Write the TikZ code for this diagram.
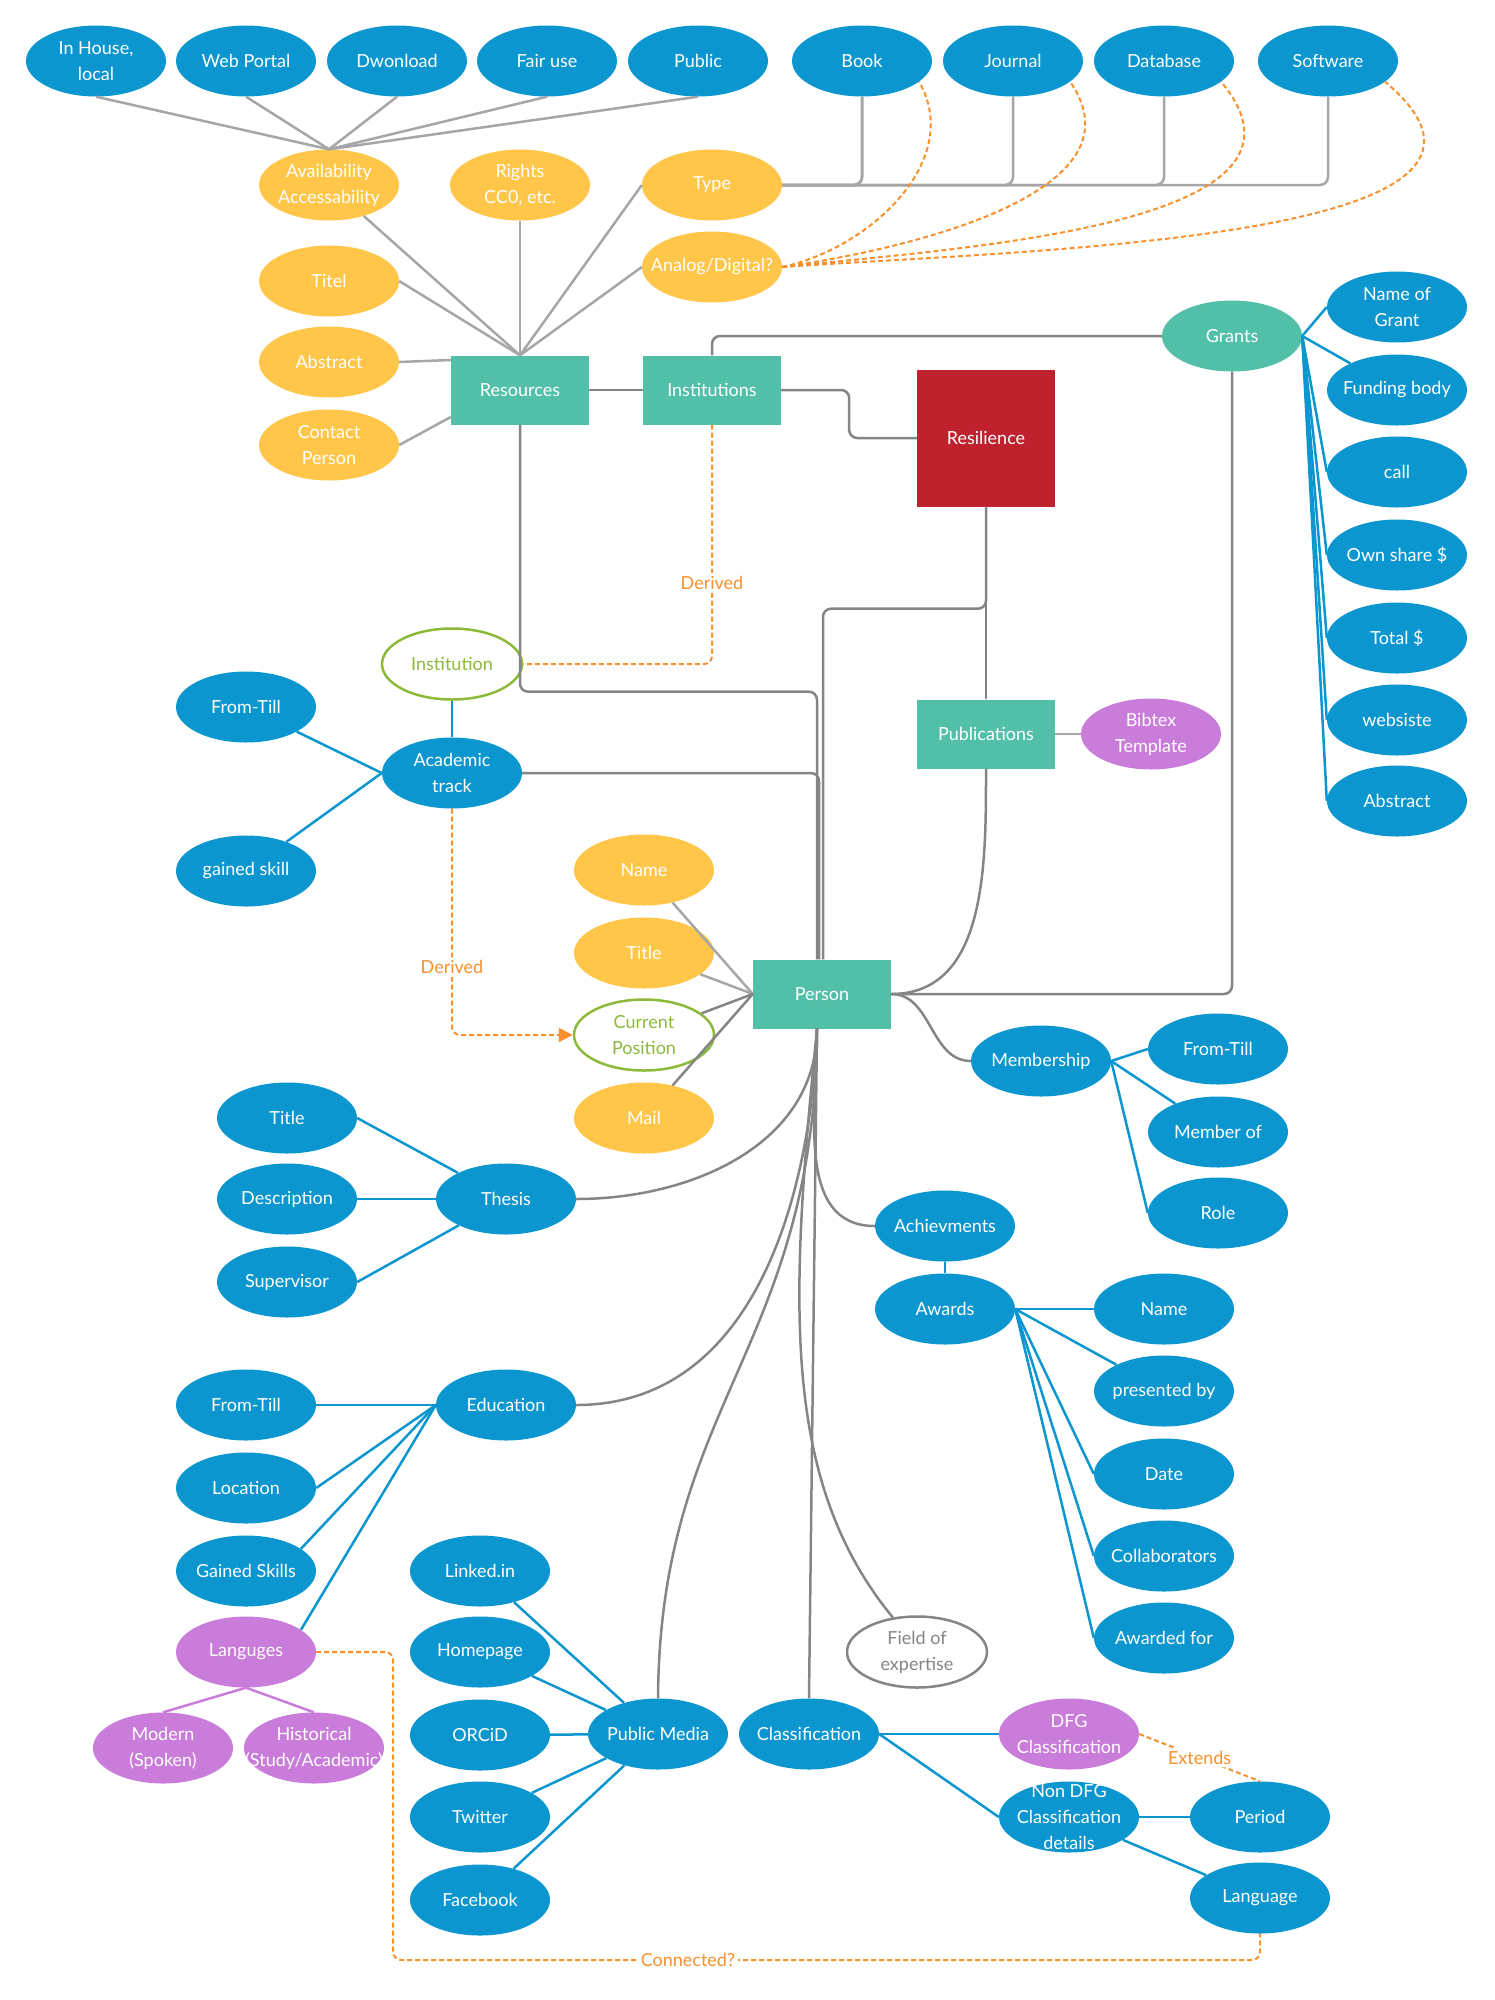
\documentclass[tikz,border=0pt]{standalone}
\usepackage{fontspec}
\setmainfont{Lato}
\usetikzlibrary{shapes.geometric,arrows.meta}
\definecolor{cblue}{HTML}{0B96CF}
\definecolor{cyel}{HTML}{FFC64A}
\definecolor{cteal}{HTML}{52C0A9}
\definecolor{cred}{HTML}{C0222D}
\definecolor{cpur}{HTML}{C97CD9}
\definecolor{cgreen}{HTML}{8DB93A}
\definecolor{corange}{HTML}{F7902D}
\definecolor{lgray}{HTML}{A6A6A6}
\definecolor{dgray}{HTML}{858585}
\begin{document}
\begin{tikzpicture}[x=1pt,y=1pt,
 every node/.style={font=\fontsize{18}{26}\selectfont,align=center},
 bub/.style={ellipse,minimum width=140pt,minimum height=71pt,inner xsep=-30pt,inner ysep=-15pt,text=white},
 attr/.style={bub,fill=cblue},
 yel/.style={bub,fill=cyel},
 pur/.style={bub,fill=cpur},
 tbub/.style={bub,fill=cteal},
 ring/.style={bub,draw=cgreen,line width=2.5pt,fill=white,text=cgreen},
 gring/.style={bub,draw=dgray,line width=2.5pt,fill=white,text=dgray},
 ent/.style={rectangle,fill=cteal,text=white,minimum width=138pt,minimum height=69pt},
 core/.style={rectangle,fill=cred,text=white,minimum width=138pt,minimum height=137pt},
 gl/.style={draw=lgray,line width=2.5pt},
 dl/.style={draw=dgray,line width=2.5pt,rounded corners=8pt},
 bl/.style={draw=cblue,line width=2.5pt},
 pl/.style={draw=cpur,line width=2.5pt},
 ol/.style={draw=corange,line width=2pt,dash pattern=on 5pt off 3pt,rounded corners=8pt},
 lbl/.style={fill=white,text=corange,inner sep=3pt}]
\useasboundingbox (0,0) rectangle (1494,-2000);
\node[attr] (inhouse) at (96,-61) {In House,\\local};
\node[attr] (web) at (246,-61) {Web Portal};
\node[attr] (dwn) at (397,-61) {Dwonload};
\node[attr] (fair) at (547,-61) {Fair use};
\node[attr] (pub) at (698,-61) {Public};
\node[attr] (book) at (862,-61) {Book};
\node[attr] (jour) at (1013,-61) {Journal};
\node[attr] (dbase) at (1164,-61) {Database};
\node[attr] (soft) at (1328,-61) {Software};
\node[yel] (avail) at (329,-185) {Availability\\Accessability};
\node[yel] (rights) at (520,-185) {Rights\\CC0, etc.};
\node[yel] (type) at (712,-185) {Type};
\node[yel] (analog) at (712,-267) {Analog/Digital?};
\node[yel] (titel) at (329,-281) {Titel};
\node[yel] (abs) at (329,-362) {Abstract};
\node[yel] (contact) at (329,-445) {Contact\\Person};
\node[ent] (res) at (520,-390) {Resources};
\node[ent] (inst) at (712,-390) {Institutions};
\node[core] (resil) at (986,-438) {Resilience};
\node[tbub] (grants) at (1232,-336) {Grants};
\node[attr] (gname) at (1397,-307) {Name of\\Grant};
\node[attr] (gbody) at (1397,-390) {Funding body};
\node[attr] (gcall) at (1397,-472) {call};
\node[attr] (gown) at (1397,-555) {Own share \$};
\node[attr] (gtotal) at (1397,-638) {Total \$};
\node[attr] (gweb) at (1397,-720) {websiste};
\node[attr] (gabs) at (1397,-801) {Abstract};
\node[ent] (publ) at (986,-734) {Publications};
\node[pur] (bib) at (1151,-734) {Bibtex\\Template};
\node[ent] (person) at (822,-994) {Person};
\node[ring] (instp) at (452,-664) {Institution};
\node[attr] (acad) at (452,-773) {Academic\\track};
\node[attr] (aft) at (246,-707) {From-Till};
\node[attr] (askill) at (246,-871) {gained skill};
\node[yel] (pname) at (644,-870) {Name};
\node[yel] (ptitle) at (644,-953) {Title};
\node[ring] (ppos) at (644,-1035) {Current\\Position};
\node[yel] (pmail) at (644,-1118) {Mail};
\node[attr] (memb) at (1041,-1061) {Membership};
\node[attr] (mft) at (1218,-1049) {From-Till};
\node[attr] (mof) at (1218,-1132) {Member of};
\node[attr] (mrole) at (1218,-1213) {Role};
\node[attr] (ach) at (945,-1226) {Achievments};
\node[attr] (awards) at (945,-1309) {Awards};
\node[attr] (aname) at (1164,-1309) {Name};
\node[attr] (apres) at (1164,-1391) {presented by};
\node[attr] (adate) at (1164,-1474) {Date};
\node[attr] (acoll) at (1164,-1556) {Collaborators};
\node[attr] (afor) at (1164,-1638) {Awarded for};
\node[attr] (thesis) at (506,-1199) {Thesis};
\node[attr] (ttitle) at (287,-1118) {Title};
\node[attr] (tdesc) at (287,-1199) {Description};
\node[attr] (tsup) at (287,-1282) {Supervisor};
\node[attr] (edu) at (506,-1405) {Education};
\node[attr] (eft) at (246,-1405) {From-Till};
\node[attr] (eloc) at (246,-1488) {Location};
\node[attr] (eskill) at (246,-1571) {Gained Skills};
\node[pur] (lang) at (246,-1652) {Languges};
\node[pur] (modern) at (163,-1748) {Modern\\(Spoken)};
\node[pur] (hist) at (314,-1748) {Historical\\(Study/Academic)};
\node[attr] (media) at (658,-1734) {Public Media};
\node[attr] (linked) at (480,-1571) {Linked.in};
\node[attr] (home) at (480,-1652) {Homepage};
\node[attr] (orcid) at (480,-1735) {ORCiD};
\node[attr] (twit) at (480,-1817) {Twitter};
\node[attr] (fb) at (480,-1900) {Facebook};
\node[attr] (class) at (809,-1734) {Classification};
\node[pur] (dfg) at (1069,-1734) {DFG\\Classification};
\node[attr] (ndfg) at (1069,-1817) {Non DFG\\Classification\\details};
\node[attr] (period) at (1260,-1817) {Period};
\node[attr] (language) at (1260,-1898) {Language};
\node[gring] (field) at (917,-1652) {Field of\\expertise};
\coordinate (cbot) at (0,-1960);
\draw[gl] (avail.north) -- (inhouse.south);
\draw[gl] (avail.north) -- (web.south);
\draw[gl] (avail.north) -- (dwn.south);
\draw[gl] (avail.north) -- (fair.south);
\draw[gl] (avail.north) -- (pub.south);
\draw[gl] (res.north) -- (avail);
\draw[gl] (res.north) -- (rights.south);
\draw[gl] (res.north) -- (type.west);
\draw[gl] (res.north) -- (analog.west);
\draw[gl] (res.north) -- (titel.east);
\draw[gl] (abs.east) -- ([yshift=30pt]res.west);
\draw[gl] (contact.east) -- ([yshift=-27pt]res.west);
\draw[gl,line width=3pt,rounded corners=8pt] (type.east) -| (book.south);
\draw[gl,rounded corners=8pt] (type.east) -| (jour.south);
\draw[gl,rounded corners=8pt] (type.east) -| (dbase.south);
\draw[gl,rounded corners=8pt] (type.east) -| (soft.south);
\draw[ol] (analog.east) to[out=12,in=-60] (book.-20);
\draw[ol] (analog.east) to[out=8,in=-55] (jour.-20);
\draw[ol] (analog.east) to[out=6,in=-50] (dbase.-20);
\draw[ol] (analog.east) to[out=4,in=-40] (soft.-20);
\draw[dl] (res) -- (inst);
\draw[dl] (inst.north) |- (grants.west);
\draw[dl] (inst.east) -- ++(68,0) |- (resil.west);
\draw[ol] (inst.south) |- node[lbl,pos=0.33]{Derived} (instp.east);
\draw[dl] (res.south) -- ++(0,-267) -| ([xshift=-5pt]person.north);
\draw[dl] (resil.south) -- (publ.north);
\draw[dl] (resil.south) -- ++(0,-102) -| ([xshift=1pt]person.north);
\draw[dl] (acad.east) -| ([xshift=-3pt]person.north);
\draw[dl] (grants.south) |- (person.east);
\draw[dl] (publ.south) to[out=-90,in=0] (person.east);
\draw[gl] (publ) -- (bib);
\draw[bl] (grants.east) -- (gname.west);
\draw[bl] (grants.east) -- (gbody);
\draw[bl] (grants.east) -- (gcall.west);
\draw[bl] (grants.east) -- (gown.west);
\draw[bl] (grants.east) -- (gtotal.west);
\draw[bl] (grants.east) -- (gweb.west);
\draw[bl] (grants.east) -- (gabs.west);
\draw[bl] (instp) -- (acad);
\draw[bl] (aft) -- (acad.west);
\draw[bl] (askill) -- (acad.west);
\draw[ol,-{Triangle[length=14pt,width=14pt]}] (acad.south) |- node[lbl,pos=0.35]{Derived} (ppos.west);
\draw[gl] (pname) -- (person.west);
\draw[gl] (ptitle) -- (person.west);
\draw[dl] (ppos) -- (person.west);
\draw[dl] (pmail) -- (person.west);
\draw[dl] (person.east) to[out=0,in=180] (memb.west);
\draw[bl] (memb.east) -- (mft.west);
\draw[bl] (memb.east) -- (mof);
\draw[bl] (memb.east) -- (mrole.west);
\draw[dl] ([xshift=-5pt]person.south) to[out=-90,in=180] (ach.west);
\draw[bl] (ach) -- (awards);
\draw[bl] (awards.east) -- (aname.west);
\draw[bl] (awards.east) -- (apres);
\draw[bl] (awards.east) -- (adate.west);
\draw[bl] (awards.east) -- (acoll.west);
\draw[bl] (awards.east) -- (afor.west);
\draw[dl] ([xshift=-5pt]person.south) to[out=-90,in=0] (thesis.east);
\draw[bl] (ttitle.east) -- (thesis);
\draw[bl] (tdesc) -- (thesis);
\draw[bl] (tsup.east) -- (thesis);
\draw[dl] ([xshift=-5pt]person.south) to[out=-92,in=0] (edu.east);
\draw[bl] (eft) -- (edu);
\draw[bl] (eloc.east) -- (edu.west);
\draw[bl] (eskill.22) -- (edu.west);
\draw[bl] (lang.22) -- (edu.west);
\draw[pl] (lang.south) -- (modern.north);
\draw[pl] (lang.south) -- (hist.north);
\draw[ol] (lang.east) -- ++(77,0) |- node[lbl,pos=0.67]{Connected?} (language.south |- cbot) -- (language.south);
\draw[dl] ([xshift=-5pt]person.south) .. controls (815,-1350) and (660,-1400) .. (media.north);
\draw[bl] (linked) -- (media);
\draw[bl] (home) -- (media);
\draw[bl] (orcid) -- (media);
\draw[bl] (twit) -- (media);
\draw[bl] (fb) -- (media);
\draw[dl] ([xshift=-5pt]person.south) -- (class.north);
\draw[dl] ([xshift=-5pt]person.south) .. controls (790,-1300) and (780,-1480) .. (field.125);
\draw[bl] (class.east) -- (dfg.west);
\draw[bl] (class.east) -- (ndfg.west);
\draw[bl] (ndfg.east) -- (period.west);
\draw[bl] (ndfg) -- (language);
\draw[ol] (dfg.east) -- node[lbl]{Extends} (period.north);
\end{tikzpicture}
\end{document}
